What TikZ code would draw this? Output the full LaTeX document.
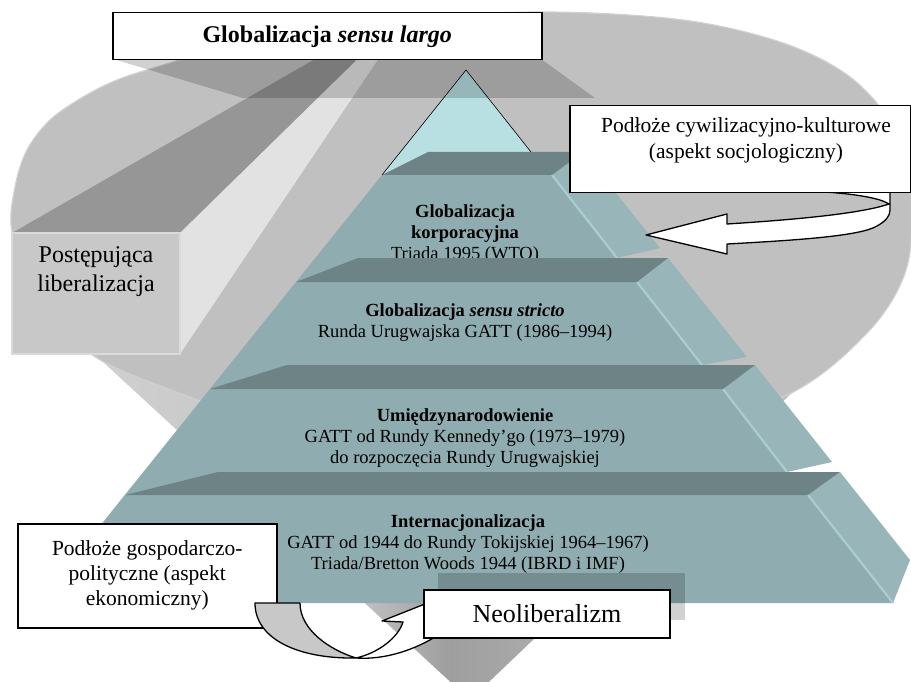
\documentclass[tikz,border=0pt]{standalone}
\usepackage{fontspec}
\setmainfont{Liberation Serif}
\usetikzlibrary{calc}

\definecolor{funnel}{HTML}{C0C0C0}
\definecolor{funnelrim}{HTML}{D0D0D0}
\definecolor{beamtop}{HTML}{969696}
\definecolor{beamside}{HTML}{E2E2E2}
\definecolor{beamfront}{HTML}{C8C8C8}
\definecolor{beamrim}{HTML}{DADADA}
\definecolor{capcol}{HTML}{B8E0E2}
\definecolor{tierface}{HTML}{8FADB0}
\definecolor{tierside}{HTML}{98B6B9}
\definecolor{tierstep}{HTML}{6E8385}
\definecolor{tieredge}{HTML}{AACDD0}
\definecolor{ribbonback}{HTML}{C8C8C8}
\definecolor{coneA}{HTML}{D0D0D0}
\definecolor{coneB}{HTML}{C2C2C2}
\definecolor{coneC}{HTML}{9E9E9E}
\definecolor{coneD}{HTML}{A8A8A8}
\definecolor{coneE}{HTML}{B8B8B8}
\definecolor{coneF}{HTML}{C0C0C0}

\pgfdeclarehorizontalshading{conesh}{100bp}{color(0bp)=(coneA); color(25bp)=(coneA);
  color(42.5bp)=(coneB); color(48.3bp)=(coneC); color(52.8bp)=(coneD);
  color(58bp)=(coneE); color(75bp)=(coneF); color(100bp)=(coneF)}

\tikzset{
  tiertext/.style={align=center, inner sep=0pt, font=\fontsize{18.5}{21}\selectfont},
  whitebox/.style={draw=black, fill=white, line width=1.5pt, inner sep=0pt},
  ribbon/.style={draw=black, line width=1.3pt, line join=round},
  stepface/.style={fill=tierstep},
  sideface/.style={fill=tierside},
  sideedge/.style={draw=tieredge, line width=2.2pt},
}

\begin{document}
\begin{tikzpicture}[x=1pt,y=-1pt]
\useasboundingbox (0,0) rectangle (911,682);

% funnel: cone below the mouth
\shade[shading=conesh] (90,350) -- (470,700) -- (861,327) -- (470,300) -- cycle;
% funnel mouth
\filldraw[fill=funnel, draw=funnelrim, line width=1.2pt]
  plot[smooth cycle, tension=0.55] coordinates {(12,232) (15,187) (27,150) (50,120)
  (83,97) (117,80) (157,67) (250,40) (380,20) (542,12) (683,20) (783,43) (850,77)
  (893,127) (911,195) (906,270) (867,333) (783,397) (620,445) (460,460) (300,440)
  (197,400) (97,358) (35,300)};

% receding beam
\coordinate (vp) at (418,0);
\coordinate (ftl) at (12,233);
\coordinate (ftr) at (180,233);
\coordinate (fbr) at (180,354);
\fill[beamtop] (ftl) -- (ftr) -- ($(ftr)!0.85!(vp)$) -- ($(ftl)!0.85!(vp)$) -- cycle;
\fill[beamside] (ftr) -- (fbr) -- ($(fbr)!0.85!(vp)$) -- ($(ftr)!0.85!(vp)$) -- cycle;
\filldraw[fill=beamfront, draw=beamrim, line width=1.2pt] (ftl) rectangle (fbr);
\node[align=center, inner sep=0pt, font=\fontsize{24}{29}\selectfont] (lib) at (96,272)
  {Postępująca\\liberalizacja};

% pyramid body
\fill[tierface] (382,175) -- (552,175) -- (617,258) -- (637,282) -- (702,365)
  -- (723,389) -- (787,472) -- (808,495) -- (893,603) -- (38,603) -- cycle;
% top cap
\fill[capcol] (466,70) -- (382,175) -- (428,152) -- (531,152) -- cycle;
\draw[line width=0.6pt] (382,175) -- (466,70) -- (531,152);
% side faces
\fill[sideface] (552,175) -- (583,152) -- (660,248) -- (617,258) -- cycle;
\fill[sideface] (637,282) -- (668,258) -- (747,357) -- (702,365) -- cycle;
\fill[sideface] (723,389) -- (755,365) -- (832,462) -- (787,472) -- cycle;
\fill[sideface] (808,495) -- (840,472) -- (910,560) -- (893,603) -- cycle;
\draw[sideedge] (552,175) -- (617,258);
\draw[sideedge] (637,282) -- (702,365);
\draw[sideedge] (723,389) -- (787,472);
\draw[sideedge] (808,495) -- (893,603);

% tier labels
\node[tiertext] (t1) at (465,234) {\textbf{Globalizacja}\\\textbf{korporacyjna}\\Triada 1995 (WTO)};
\node[tiertext] (t2) at (465,323) {\textbf{Globalizacja \textit{sensu stricto}}\\Runda Urugwajska GATT (1986–1994)};
\node[tiertext] (t3) at (465,438) {\textbf{Umiędzynarodowienie}\\GATT od Rundy Kennedy’go (1973–1979)\\do rozpoczęcia Rundy Urugwajskiej};
\node[tiertext] (t4) at (468,544) {\textbf{Internacjonalizacja}\\GATT od 1944 do Rundy Tokijskiej 1964–1967)\\Triada/Bretton Woods 1944 (IBRD i IMF)};

% step tops
\fill[stepface] (382,175) -- (428,152) -- (583,152) -- (552,175) -- cycle;
\fill[stepface] (296,282) -- (358,258) -- (668,258) -- (637,282) -- cycle;
\fill[stepface] (210,389) -- (287,365) -- (755,365) -- (723,389) -- cycle;
\fill[stepface] (125,495) -- (218,472) -- (840,472) -- (808,495) -- cycle;

% title with its cast shadow
\fill[black, opacity=0.18] (113,59) -- (541,59) -- (595,98) -- (243,98) -- cycle;
\node[whitebox, minimum width=429pt, minimum height=47pt, anchor=north west,
  font=\fontsize{24}{28}\selectfont] (title) at (112,12)
  {\textbf{Globalizacja \textit{sensu largo}}};

% curved arrow from the cultural callout
\filldraw[fill=white, ribbon] (825,192) .. controls (855,194) and (880,198) .. (889,204)
  .. controls (860,214) and (790,220) .. (727,224) -- (727,214) -- (646,235)
  -- (727,254) -- (727,244) .. controls (800,240) and (860,236) .. (877,226)
  .. controls (886,221) and (890,216) .. (890,210) -- (890,192) -- cycle;
\node[whitebox, minimum width=341pt, minimum height=87pt, anchor=north west] (socbox) at (569,105) {};
\node[align=center, inner sep=0pt, font=\fontsize{21.5}{26}\selectfont] (soc) at (746,140)
  {Podłoże cywilizacyjno-kulturowe\\(aspekt socjologiczny)};

% economic callout
\node[whitebox, minimum width=259pt, minimum height=104pt, anchor=north west, align=center,
  font=\fontsize{21.5}{25}\selectfont] (eco) at (17,523)
  {Podłoże gospodarczo-\\polityczne (aspekt\\ekonomiczny)};

% twisted arrow towards Neoliberalizm
\filldraw[fill=ribbonback, ribbon] (255,603) .. controls (255,640) and (300,659) .. (356,658)
  .. controls (330,650) and (300,630) .. (300,603) -- cycle;
\filldraw[fill=white, ribbon] (356,658) .. controls (385,660) and (415,650) .. (440,634)
  -- (440,598) -- (382,621) -- (403,622) .. controls (398,638) and (378,653) .. (356,658) -- cycle;

% Neoliberalizm box with shadow
\fill[black, opacity=0.18] (438,573) rectangle (685,620);
\node[whitebox, line width=2pt, minimum width=246pt, minimum height=48pt, anchor=north west,
  font=\fontsize{26}{30}\selectfont] (neo) at (423,589) {Neoliberalizm};

\end{tikzpicture}
\end{document}
